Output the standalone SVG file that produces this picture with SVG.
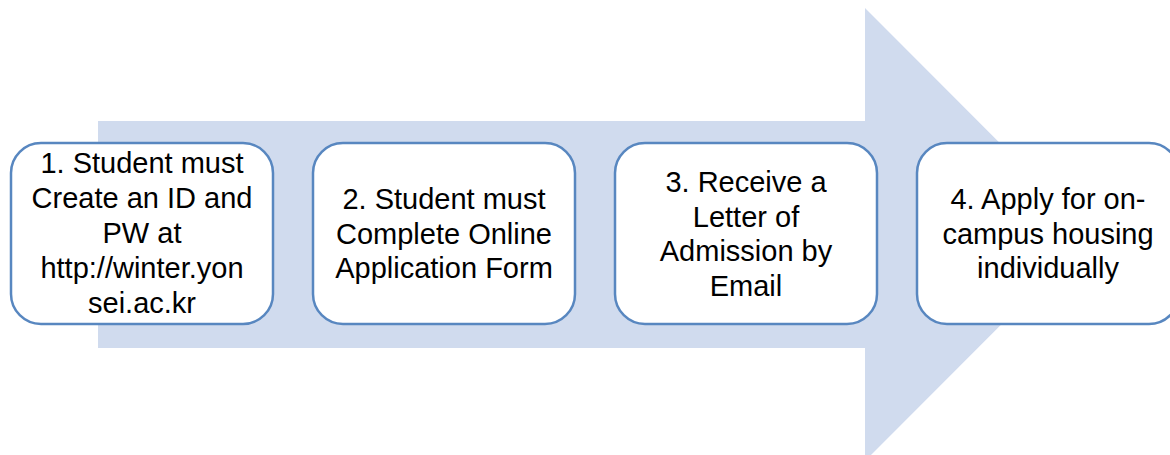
<svg xmlns="http://www.w3.org/2000/svg" width="1170" height="455" viewBox="0 0 1170 455">
<style>
.box{fill:#ffffff;stroke:#5887C0;stroke-width:2.5}
.t{font-family:"Liberation Sans",Arial,sans-serif;font-size:29px;fill:#000000;text-anchor:middle}
</style>
<rect width="1170" height="455" fill="#ffffff"/>
<g id="connectors">
<polygon points="98,121 865,121 865,8 1091,234.5 865,461 865,348 98,348" fill="#D0DBEE"/>
</g>
<g id="node1">
<rect class="box" x="11" y="143" width="262" height="181" rx="30"/>
<text class="t"><tspan x="142" y="173">1. Student must</tspan><tspan x="142" y="208">Create an ID and</tspan><tspan x="142" y="243">PW at</tspan><tspan x="142" y="278">http://winter.yon</tspan><tspan x="142" y="313">sei.ac.kr</tspan></text>
</g>
<g id="node2">
<rect class="box" x="313" y="143" width="262" height="181" rx="30"/>
<text class="t"><tspan x="444" y="209">2. Student must</tspan><tspan x="444" y="243.5">Complete Online</tspan><tspan x="444" y="278">Application Form</tspan></text>
</g>
<g id="node3">
<rect class="box" x="615" y="143" width="262" height="181" rx="30"/>
<text class="t"><tspan x="746" y="192">3. Receive a</tspan><tspan x="746" y="227">Letter of</tspan><tspan x="746" y="261">Admission by</tspan><tspan x="746" y="296">Email</tspan></text>
</g>
<g id="node4">
<rect class="box" x="917" y="143" width="262" height="181" rx="30"/>
<text class="t"><tspan x="1048" y="209">4. Apply for on-</tspan><tspan x="1048" y="243.5">campus housing</tspan><tspan x="1048" y="278">individually</tspan></text>
</g>
</svg>
